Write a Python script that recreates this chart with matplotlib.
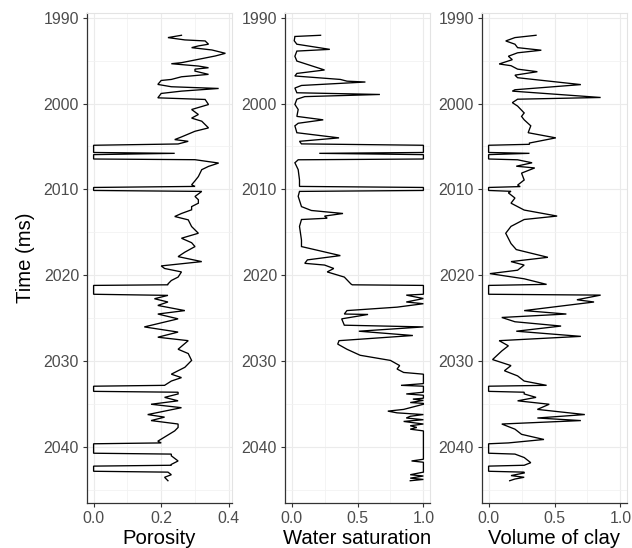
import matplotlib
matplotlib.use("Agg")
import matplotlib.pyplot as plt
from matplotlib.ticker import MultipleLocator, FixedLocator
import numpy as np

plt.rcParams['font.family'] = ['Liberation Sans', 'DejaVu Sans']

# ---------------- data ----------------
# intervals (ms) with missing log values (drawn at the fill value)
null_start = [2004.86, 2005.95, 2009.77, 2021.17, 2032.90, 2039.60, 2042.20]
null_end   = [2005.70, 2006.46, 2010.12, 2022.20, 2033.50, 2040.70, 2042.80]

poro_t = [1992.06, 1992.33, 1992.60, 1992.72, 1993.10, 1993.30, 1993.50, 1993.77, 1994.16, 1994.47,
          1994.86, 1995.25, 1995.37, 1995.64, 1995.84, 1996.00, 1996.23, 1996.61, 1996.89, 1997.20,
          1997.32, 1997.78, 1998.05, 1998.25, 1998.56, 1998.83, 1999.34, 1999.53, 2000.12, 2000.70,
          2001.28, 2001.70, 2002.06, 2002.84, 2003.23, 2003.89, 2004.20, 2004.40, 2004.71,
          2005.80,
          2006.54, 2006.93, 2007.32, 2007.70, 2008.50, 2009.00, 2009.46, 2009.65,
          2010.23, 2010.82, 2011.20, 2011.60, 2012.00, 2012.37, 2012.80, 2013.15, 2013.54, 2014.32,
          2015.10, 2015.68, 2016.20, 2016.65, 2017.30, 2017.82, 2018.40, 2018.90, 2019.20, 2019.60,
          2020.20, 2020.60, 2021.00, 2021.10,
          2022.33, 2022.72, 2023.10, 2023.50, 2024.10, 2024.50, 2025.06, 2026.00, 2026.60, 2027.20,
          2027.60, 2028.60, 2029.10, 2029.90, 2030.70, 2031.50, 2031.90, 2032.30, 2032.80,
          2033.60, 2033.80, 2034.20, 2034.60, 2035.00, 2035.40, 2036.20, 2036.50, 2036.90, 2037.30,
          2037.70, 2038.10, 2039.30, 2039.50,
          2040.80, 2041.00, 2041.60, 2042.00, 2042.10,
          2042.90, 2043.20, 2043.50, 2043.90]
poro_v = [0.26, 0.22, 0.27, 0.33, 0.34, 0.31, 0.29, 0.35, 0.39, 0.36,
          0.31, 0.26, 0.23, 0.31, 0.34, 0.30, 0.30, 0.34, 0.26, 0.23,
          0.20, 0.19, 0.23, 0.37, 0.26, 0.20, 0.19, 0.33, 0.34, 0.29,
          0.31, 0.29, 0.32, 0.34, 0.30, 0.26, 0.24, 0.28, 0.25,
          0.24,
          0.30, 0.37, 0.34, 0.32, 0.31, 0.30, 0.29, 0.30,
          0.32, 0.30, 0.31, 0.31, 0.29, 0.29, 0.26, 0.24, 0.28, 0.29,
          0.31, 0.26, 0.29, 0.30, 0.27, 0.25, 0.32, 0.20, 0.21, 0.26,
          0.25, 0.23, 0.22, 0.22,
          0.22, 0.18, 0.22, 0.19, 0.27, 0.19, 0.25, 0.15, 0.25, 0.19,
          0.28, 0.25, 0.28, 0.29, 0.27, 0.23, 0.26, 0.23, 0.21,
          0.25, 0.25, 0.21, 0.25, 0.17, 0.26, 0.16, 0.21, 0.17, 0.25,
          0.25, 0.24, 0.19, 0.20,
          0.23, 0.23, 0.25, 0.23, 0.23,
          0.22, 0.23, 0.21, 0.22]

sw_t = [1992.06, 1992.20, 1992.70, 1993.10, 1993.70, 1993.90, 1994.50, 1995.06, 1996.10, 1996.50,
        1996.80, 1997.20, 1997.40, 1997.50, 1997.90, 1998.20, 1998.75, 1998.95, 1999.20, 1999.50,
        2000.10, 2000.70, 2001.50, 2001.90, 2002.30, 2002.60, 2003.40, 2004.00, 2004.40, 2004.70,
        2005.80,
        2006.55, 2006.90, 2007.70, 2008.90, 2009.65,
        2010.23, 2010.80, 2012.00, 2012.45, 2012.80, 2013.10, 2013.35, 2013.50, 2014.30, 2015.90,
        2016.65, 2017.70, 2018.20, 2018.60, 2018.80, 2019.20, 2019.60, 2020.20, 2021.00, 2021.10,
        2022.30, 2022.70, 2023.10, 2023.30, 2023.70, 2024.10, 2024.50, 2024.55, 2025.06, 2025.80,
        2026.00, 2026.50, 2027.00, 2027.60, 2028.00, 2028.60, 2029.30, 2029.90, 2030.50, 2030.90,
        2031.30, 2031.50, 2032.60, 2032.80,
        2033.60, 2033.80, 2033.95, 2034.30, 2034.40, 2034.55, 2034.80, 2034.90, 2035.00, 2035.60,
        2035.80, 2036.00, 2036.20, 2036.40, 2036.60, 2036.80, 2037.00, 2037.30, 2037.50, 2037.70,
        2037.90, 2038.10, 2041.40, 2041.60, 2041.75, 2042.10,
        2042.90, 2043.20, 2043.35, 2043.60, 2043.75, 2043.90]
sw_v = [0.22, 0.025, 0.02, 0.04, 0.29, 0.04, 0.025, 0.04, 0.25, 0.04,
        0.025, 0.37, 0.42, 0.56, 0.075, 0.025, 0.04, 0.67, 0.10, 0.04,
        0.025, 0.05, 0.04, 0.24, 0.05, 0.025, 0.04, 0.36, 0.06, 0.075,
        0.21,
        0.05, 0.025, 0.05, 0.06, 0.06,
        0.06, 0.05, 0.075, 0.15, 0.39, 0.25, 0.27, 0.075, 0.06, 0.075,
        0.075, 0.37, 0.12, 0.10, 0.25, 0.32, 0.27, 0.40, 0.45, 0.46,
        0.87, 1.00, 0.87, 1.00, 0.80, 0.42, 0.40, 0.58, 0.38, 0.40,
        1.00, 0.51, 0.92, 0.36, 0.35, 0.42, 0.52, 0.75, 0.82, 0.80,
        0.85, 1.00, 1.00, 0.83,
        1.00, 0.87, 1.00, 1.00, 0.92, 1.00, 0.90, 1.00, 1.00, 0.85,
        0.73, 0.80, 1.00, 0.90, 0.87, 1.00, 0.85, 1.00, 0.90, 0.95,
        0.90, 1.00, 1.00, 0.91, 1.00, 1.00,
        1.00, 0.90, 1.00, 0.90, 1.00, 0.90]

vcl_t = [1992.06, 1992.33, 1992.72, 1993.10, 1993.50, 1993.80, 1994.10, 1994.50, 1994.90, 1995.40,
         1995.60, 1996.00, 1996.30, 1996.70, 1997.00, 1997.80, 1998.40, 1998.56, 1999.30, 1999.50,
         1999.90, 2000.30, 2001.10, 2001.50, 2001.90, 2002.60, 2003.40, 2004.00, 2004.60, 2004.75,
         2005.80,
         2006.55, 2006.90, 2007.30, 2007.50, 2008.10, 2008.90, 2009.50, 2009.67,
         2010.22, 2010.40, 2011.00, 2011.60, 2012.40, 2013.10, 2013.50, 2014.30, 2015.10, 2016.30,
         2017.00, 2017.90, 2018.40, 2018.80, 2019.40, 2019.80, 2020.40, 2021.05,
         2022.30, 2022.84, 2023.10, 2024.10, 2024.50, 2024.90, 2025.40, 2025.90, 2026.50, 2027.10,
         2027.60, 2028.20, 2028.80, 2029.80, 2030.50, 2031.10, 2031.70, 2032.30, 2032.80,
         2033.60, 2033.80, 2034.20, 2034.60, 2035.00, 2035.60, 2036.20, 2036.60, 2036.90, 2037.30,
         2037.90, 2038.50, 2039.10, 2039.50,
         2040.80, 2041.20, 2041.80, 2042.10,
         2042.90, 2043.00, 2043.30, 2043.50, 2043.70, 2043.90]
vcl_v = [0.36, 0.20, 0.13, 0.20, 0.22, 0.40, 0.22, 0.15, 0.18, 0.08,
         0.17, 0.22, 0.37, 0.20, 0.22, 0.70, 0.20, 0.18, 0.85, 0.22,
         0.18, 0.22, 0.27, 0.25, 0.27, 0.32, 0.30, 0.51, 0.31, 0.31,
         0.31,
         0.22, 0.33, 0.21, 0.35, 0.25, 0.27, 0.22, 0.24,
         0.17, 0.15, 0.20, 0.17, 0.27, 0.52, 0.27, 0.17, 0.13, 0.17,
         0.21, 0.45, 0.17, 0.27, 0.22, 0.01, 0.27, 0.44,
         0.85, 0.67, 0.80, 0.27, 0.59, 0.10, 0.20, 0.55, 0.21, 0.70,
         0.08, 0.15, 0.10, 0.03, 0.17, 0.12, 0.22, 0.27, 0.44,
         0.27, 0.27, 0.36, 0.22, 0.46, 0.37, 0.73, 0.37, 0.70, 0.10,
         0.20, 0.25, 0.42, 0.15,
         0.20, 0.27, 0.32, 0.27,
         0.27, 0.27, 0.17, 0.27, 0.20, 0.16]

x_titles = ["Porosity", "Water saturation", "Volume of clay"]
x_ticks = [[0.0, 0.2, 0.4], [0.0, 0.5, 1.0], [0.0, 0.5, 1.0]]
x_ticklabels = [["0.0", "0.2", "0.4"], ["0.0", "0.5", "1.0"], ["0.0", "0.5", "1.0"]]
fill_values = [0.0, 1.0, 0.0]
y_ticks = [1990, 2000, 2010, 2020, 2030, 2040]


def with_nulls(t, v, fill):
    tt = list(t) + list(null_start) + list(null_end)
    vv = list(v) + [fill] * (len(null_start) + len(null_end))
    order = np.argsort(tt, kind="stable")
    return np.asarray(tt)[order], np.asarray(vv)[order]


series = [with_nulls(poro_t, poro_v, 0.0),
          with_nulls(sw_t, sw_v, 1.0),
          with_nulls(vcl_t, vcl_v, 0.0)]

# ---------------- figure ----------------
W, H = 632, 548
fig = plt.figure(figsize=(W / 100, H / 100), dpi=100)
lefts = [87, 285, 482]
pw = 145
top, bottom = 13, 503

tmin = min(min(poro_t), min(sw_t), min(vcl_t))
tmax = max(max(poro_t), max(sw_t), max(vcl_t))
pad = 0.05 * (tmax - tmin)

grid_c = '#EBEBEB'
txt_c = '#4D4D4D'
for i in range(3):
    ax = fig.add_axes([lefts[i] / W, 1 - bottom / H, pw / W, (bottom - top) / H])
    t, v = series[i]
    ax.plot(v, t, color='black', lw=0.95, solid_joinstyle='miter')
    ax.set_ylim(tmax + pad, tmin - pad)
    if i == 0:
        vmax = max(poro_v)
        ax.set_xlim(-0.05 * vmax, vmax * 1.05)
    else:
        ax.set_xlim(-0.05, 1.05)
    ax.xaxis.set_major_locator(FixedLocator(x_ticks[i]))
    ax.set_xticklabels(x_ticklabels[i])
    step = x_ticks[i][1] - x_ticks[i][0]
    ax.xaxis.set_minor_locator(FixedLocator([x_ticks[i][0] + step / 2 + k * step for k in range(len(x_ticks[i]))]))
    ax.yaxis.set_major_locator(FixedLocator(y_ticks))
    ax.yaxis.set_minor_locator(FixedLocator([y + 5 for y in y_ticks]))
    ax.grid(True, which='major', color=grid_c, lw=0.8)
    ax.grid(True, which='minor', color='#F2F2F2', lw=0.6)
    ax.set_axisbelow(True)
    for s in ['top', 'right']:
        ax.spines[s].set_color('#E3E3E3')
        ax.spines[s].set_linewidth(0.8)
    for s in ['left', 'bottom']:
        ax.spines[s].set_color('#333333')
        ax.spines[s].set_linewidth(0.9)
    ax.tick_params(which='major', length=3.2, width=0.8, color='#333333',
                   labelsize=11.4, labelcolor=txt_c, pad=2.5)
    ax.tick_params(which='minor', length=0)
    ax.set_xlabel(x_titles[i], fontsize=14.6, color='black', labelpad=2)
    if i == 0:
        ax.set_ylabel('Time (ms)', fontsize=14.6, color='black', labelpad=6)

fig.savefig('out.png', dpi=100)
